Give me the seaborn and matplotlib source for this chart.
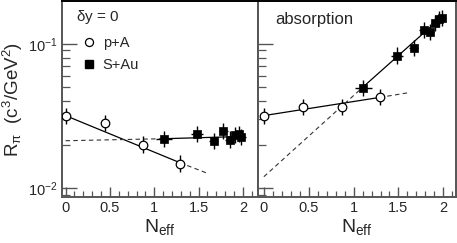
import numpy as np
import pandas as pd
import matplotlib
matplotlib.use("Agg")
import matplotlib.pyplot as plt
import seaborn as sns
from matplotlib.ticker import LogLocator, MultipleLocator, NullFormatter
from matplotlib.lines import Line2D

# N_eff positions
x_pA = [0.0, 0.44, 0.87, 1.29]
x_SAu = [1.11, 1.48, 1.67, 1.78, 1.85, 1.91, 1.95, 1.98]
xerr_SAu = [0.09, 0.065, 0.05, 0.05, 0.05, 0.05, 0.05, 0.05]

# R_pi values, left panel (dy = 0)
y_pA_left = [0.0316, 0.0282, 0.0200, 0.0148]
y_SAu_left = [0.0218, 0.0238, 0.0212, 0.0247, 0.0217, 0.0232, 0.0236, 0.0226]

# R_pi values, right panel (absorption)
y_pA_right = [0.0316, 0.0364, 0.0364, 0.0427]
y_SAu_right = [0.0495, 0.0827, 0.0934, 0.125, 0.121, 0.139, 0.148, 0.151]

# fit line nodes: x, y (solid part, then dashed extension)
fit_left_pA_solid = ([0.0, 1.29], [0.0318, 0.0150])
fit_left_pA_dash = ([1.29, 1.61], [0.0150, 0.0126])
fit_left_SAu_dash = ([0.0, 1.11], [0.0213, 0.0220])
fit_left_SAu_solid = ([1.11, 2.0], [0.0220, 0.0228])
fit_right_pA_solid = ([0.0, 1.29], [0.0318, 0.0425])
fit_right_pA_dash = ([1.29, 1.6], [0.0425, 0.0457])
fit_right_SAu_dash = ([0.0, 1.11], [0.0120, 0.0505])
fit_right_SAu_solid = ([1.11, 2.0], [0.0505, 0.157])

sns.set_style("ticks")
plt.rcParams["font.family"] = ["Liberation Sans", "DejaVu Sans"]
plt.rcParams["mathtext.fontset"] = "custom"
plt.rcParams["mathtext.rm"] = "Liberation Sans"
plt.rcParams["mathtext.it"] = "Liberation Sans"

fig = plt.figure(figsize=(4.57, 2.43), dpi=100)
ax1 = fig.add_axes([0.1357, 0.189, 0.4289, 0.807])
ax2 = fig.add_axes([0.5646, 0.189, 0.433, 0.807])

spine_col = "#555555"


def draw_points(ax, x_c, y_c, x_s, y_s):
    y_c = np.array(y_c)
    y_s = np.array(y_s)
    ax.errorbar(x_c, y_c, yerr=[y_c * 0.12, y_c * 0.14], fmt="none",
                ecolor="black", elinewidth=1.0, capsize=0, zorder=3)
    ax.errorbar(x_s, y_s, xerr=xerr_SAu, yerr=[y_s * 0.12, y_s * 0.14], fmt="none",
                ecolor="black", elinewidth=1.0, capsize=0, zorder=3)
    sns.scatterplot(x=x_c, y=y_c, ax=ax, marker="o", s=38, facecolor="white",
                    edgecolor="black", linewidth=0.9, zorder=4)
    sns.scatterplot(x=x_s, y=y_s, ax=ax, marker="s", s=36, color="black",
                    edgecolor="black", linewidth=0.5, zorder=4)


def draw_fit(ax, solid, dash):
    ax.plot(solid[0], solid[1], color="black", lw=0.9, zorder=2)
    ax.plot(dash[0], dash[1], color="#333333", lw=0.8, ls=(0, (4, 3)), zorder=2)


draw_points(ax1, x_pA, y_pA_left, x_SAu, y_SAu_left)
draw_fit(ax1, fit_left_pA_solid, fit_left_pA_dash)
draw_fit(ax1, fit_left_SAu_solid, fit_left_SAu_dash)

draw_points(ax2, x_pA, y_pA_right, x_SAu, y_SAu_right)
draw_fit(ax2, fit_right_pA_solid, fit_right_pA_dash)
draw_fit(ax2, fit_right_SAu_solid, fit_right_SAu_dash)

for ax, xl in ((ax1, (-0.04, 2.17)), (ax2, (-0.065, 2.14))):
    ax.set_yscale("log")
    ax.set_ylim(0.00867, 0.198)
    ax.set_xlim(*xl)
    ax.xaxis.set_major_locator(MultipleLocator(0.5))
    ax.xaxis.set_minor_locator(MultipleLocator(0.1))
    ax.xaxis.set_major_formatter(plt.FuncFormatter(lambda v, p: f"{v:g}"))
    ax.yaxis.set_major_locator(LogLocator(base=10))
    ax.yaxis.set_minor_locator(LogLocator(base=10, subs=np.arange(2, 10)))
    ax.yaxis.set_minor_formatter(NullFormatter())
    ax.tick_params(which="both", direction="in", color=spine_col,
                   labelsize=10.5, top=False, right=False, pad=3)
    ax.tick_params(which="major", length=7, width=1.0)
    ax.tick_params(which="minor", length=4, width=0.9)
    ax.tick_params(axis="y", which="major", length=11)
    ax.tick_params(axis="y", which="minor", length=6)
    for s in ax.spines.values():
        s.set_visible(True)
        s.set_color(spine_col)
        s.set_linewidth(1.4)
    ax.spines["top"].set_color("black")
    ax.set_xlabel(r"N$_{\mathrm{eff}}$", fontsize=14, labelpad=1)
    ax.set_ylabel("")

ax2.tick_params(axis="y", labelleft=False)
ax1.set_ylabel(r"R$_\pi$  (c$^3$/GeV$^2$)", fontsize=13.5, labelpad=2)

ax1.text(0.07, 0.9, r"$\delta$y = 0", transform=ax1.transAxes, fontsize=11)
ax2.text(0.085, 0.885, "absorption", transform=ax2.transAxes, fontsize=12)

handles = [
    Line2D([], [], marker="o", ls="none", markerfacecolor="white",
           markeredgecolor="black", markersize=5.8, markeredgewidth=0.9),
    Line2D([], [], marker="s", ls="none", color="black", markersize=5.5),
]
ax1.legend(handles, ["p+A", "S+Au"], loc="upper left",
           bbox_to_anchor=(0.07, 0.85), frameon=False, fontsize=10.5,
           handletextpad=0.45, handlelength=1.0, labelspacing=0.55,
           borderaxespad=0)

fig.savefig("out.png", dpi=100)
